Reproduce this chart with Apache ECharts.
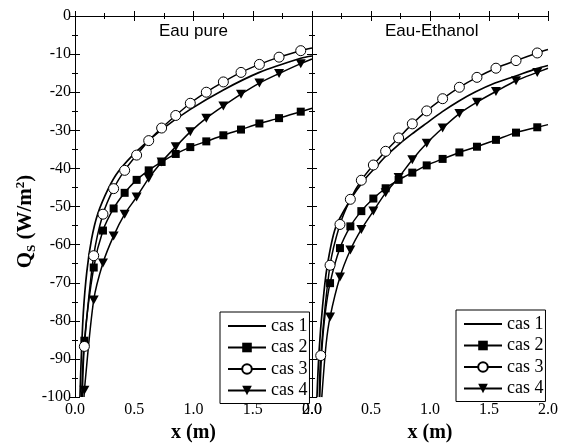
<!DOCTYPE html>
<html><head><meta charset="utf-8">
<script src="https://cdn.jsdelivr.net/npm/echarts@6/dist/echarts.min.js"></script>
<style>html,body{margin:0;padding:0;background:#fff}#c{width:565px;height:448px}</style>
</head><body><div id="c"></div>
<script>
const panelTitles = ['Eau pure', 'Eau-Ethanol'];
const caseNames = ['cas 1', 'cas 2', 'cas 3', 'cas 4'];
const xTickLabels = ['0.0', '0.5', '1.0', '1.5', '2.0'];

// ---- Eau pure (left panel) ----
const pureMarkX = [0.079, 0.158, 0.236, 0.326, 0.419, 0.520, 0.622, 0.731, 0.850, 0.973, 1.108, 1.252, 1.401, 1.556, 1.722, 1.905];
const pureCas2 = [-85.2, -66.0, -56.3, -50.5, -46.4, -43.0, -40.5, -38.3, -36.2, -34.4, -32.9, -31.3, -29.8, -28.2, -26.8, -25.1];
const pureCas3 = [-86.7, -62.9, -52.0, -45.3, -40.5, -36.5, -32.7, -29.4, -26.1, -22.9, -20.0, -17.3, -14.8, -12.7, -10.8, -9.1];
const pureCas4 = [-98.2, -74.5, -64.8, -57.7, -52.0, -47.5, -42.6, -38.3, -34.3, -30.4, -26.8, -23.6, -20.5, -17.6, -15.1, -12.5];
const pureCas1X = [0.042, 0.050, 0.070, 0.100, 0.140, 0.191, 0.281, 0.366, 0.520, 0.731, 0.973, 1.252, 1.556, 1.905, 2.000];
const pureCas1Y = [-100, -92, -78, -67, -58.5, -52, -45.3, -40.8, -35.5, -29.8, -24.5, -19.4, -14.8, -11.1, -10.5];
// unmarked line readings before / after markers
const pureCas2Start = [[0.056, -100]];
const pureCas2End = [[2.0, -24.2]];
const pureCas3Start = [[0.062, -100]];
const pureCas3End = [[2.0, -8.4]];
const pureCas4Start = [[0.076, -100]];
const pureCas4End = [[2.0, -11.3]];

// ---- Eau-Ethanol (right panel) ----
const ethMarkX = [0.074, 0.153, 0.237, 0.325, 0.418, 0.520, 0.624, 0.734, 0.850, 0.972, 1.107, 1.249, 1.398, 1.559, 1.729, 1.909];
const ethCas2 = [null, -70.1, -60.9, -55.2, -51.2, -47.9, -45.2, -43.0, -41.1, -39.2, -37.5, -35.8, -34.3, -32.5, -30.6, -29.2];
const ethCas3 = [-89.1, -65.4, -54.7, -48.1, -43.1, -39.1, -35.5, -32.0, -28.3, -24.9, -21.7, -18.7, -16.1, -13.7, -11.7, -9.7];
const ethCas4 = [null, -79.0, -68.5, -61.4, -56.0, -51.2, -46.4, -42.4, -37.7, -33.4, -29.4, -25.6, -22.6, -19.8, -17.0, -14.8];
const ethCas1X = [0.042, 0.060, 0.090, 0.127, 0.200, 0.330, 0.438, 0.551, 0.619, 0.732, 0.845, 0.972, 1.105, 1.246, 1.387, 1.551, 1.720, 1.904, 2.000];
const ethCas1Y = [-100, -88, -76, -66, -55.5, -48, -43.2, -39.3, -37.0, -33.8, -31.0, -28.1, -25.1, -22.3, -19.9, -17.6, -15.8, -13.8, -13.0];
const ethCas2Start = [[0.066, -100], [0.082, -88.5], [0.110, -78.5]];
const ethCas2End = [[2.0, -28.5]];
const ethCas3Start = [[0.062, -100]];
const ethCas3End = [[2.0, -8.8]];
const ethCas4Start = [[0.083, -100], [0.120, -86]];
const ethCas4End = [[2.0, -13.7]];

function buildData(markX, vals, startPts, endPts) {
  const d = [];
  startPts.forEach(p => d.push({ value: p, symbol: 'none' }));
  markX.forEach((x, i) => { if (vals[i] !== null) d.push([x, vals[i]]); });
  endPts.forEach(p => d.push({ value: p, symbol: 'none' }));
  return d;
}
function lineData(xs, ys) { return xs.map((x, i) => [x, ys[i]]); }

const triPath = 'path://M0,0L10,0L5,9Z';
const lineW = 1.5;
function mkSeries(gi, c1, c2, c3, c4) {
  const common = { type: 'line', xAxisIndex: gi * 2, yAxisIndex: gi * 2, smooth: 0.3, animation: false };
  return [
    Object.assign({}, common, { name: caseNames[0], data: c1, symbol: 'none',
      itemStyle: { color: 'rgba(0,0,0,0)' }, lineStyle: { color: '#000', width: 1.7 } }),
    Object.assign({}, common, { name: caseNames[1], data: c2, symbol: 'rect', symbolSize: 8,
      itemStyle: { color: '#000' }, lineStyle: { color: '#000', width: lineW } }),
    Object.assign({}, common, { name: caseNames[2], data: c3, symbol: 'circle', symbolSize: 10,
      itemStyle: { color: '#fff', borderColor: '#000', borderWidth: 1 }, lineStyle: { color: '#000', width: lineW } }),
    Object.assign({}, common, { name: caseNames[3], data: c4, symbol: triPath, symbolSize: [10, 9],
      itemStyle: { color: '#000' }, lineStyle: { color: '#000', width: lineW } })
  ];
}

const series = [].concat(
  mkSeries(0,
    lineData(pureCas1X, pureCas1Y),
    buildData(pureMarkX, pureCas2, pureCas2Start, pureCas2End),
    buildData(pureMarkX, pureCas3, pureCas3Start, pureCas3End),
    buildData(pureMarkX, pureCas4, pureCas4Start, pureCas4End)),
  mkSeries(1,
    lineData(ethCas1X, ethCas1Y),
    buildData(ethMarkX, ethCas2, ethCas2Start, ethCas2End),
    buildData(ethMarkX, ethCas3, ethCas3Start, ethCas3End),
    buildData(ethMarkX, ethCas4, ethCas4Start, ethCas4End))
);

const serif = 'Liberation Serif';
const axLine = { show: true, lineStyle: { color: '#000', width: 1 } };
const tick = { show: true, inside: true, length: 5, lineStyle: { color: '#000' } };
const minor = { show: true, splitNumber: 2, length: 3, lineStyle: { color: '#000' } };

function xAx(gi, pos, labels) {
  return {
    type: 'value', gridIndex: gi, position: pos, min: 0, max: 2, interval: 0.5,
    axisLine: axLine, axisTick: tick, minorTick: minor, splitLine: { show: false },
    axisLabel: labels ? { show: true, margin: 5, color: '#000', fontFamily: serif, fontSize: 16,
      formatter: v => xTickLabels[Math.round(v / 0.5)] } : { show: false },
    name: labels ? 'x (m)' : '', nameLocation: 'middle', nameGap: 18,
    nameTextStyle: { fontFamily: serif, fontWeight: 'bold', fontSize: 20, color: '#000' }
  };
}
function yAx(gi, pos, labels) {
  const o = {
    type: 'value', gridIndex: gi, position: pos, min: -100, max: 0, interval: 10,
    axisLine: axLine, axisTick: tick, minorTick: minor, splitLine: { show: false },
    axisLabel: labels ? { show: true, margin: 4, color: '#000', fontFamily: serif, fontSize: 16 } : { show: false }
  };
  if (labels) {
    o.name = '{q|Q}{s|S}{q| (W/m}{p|2}{q|)}';
    o.nameLocation = 'middle';
    o.nameGap = 33;
    o.nameTextStyle = {
      color: '#000', padding: [0, 30, 0, 0],
      rich: {
        q: { fontFamily: serif, fontWeight: 'bold', fontSize: 21, lineHeight: 24, color: '#000' },
        s: { fontFamily: serif, fontWeight: 'bold', fontSize: 13, lineHeight: 24, verticalAlign: 'bottom', color: '#000' },
        p: { fontFamily: serif, fontWeight: 'bold', fontSize: 13, lineHeight: 24, verticalAlign: 'top', color: '#000' }
      }
    };
  }
  return o;
}

function mkLegend(left, top) {
  return {
    orient: 'vertical', left: left, top: top, data: caseNames,
    itemWidth: 38, itemHeight: 12, itemGap: 3.5, padding: [5, 2, 4, 7],
    borderColor: '#000', borderWidth: 1, backgroundColor: '#fff',
    selectedMode: false,
    textStyle: { fontFamily: serif, fontSize: 18, color: '#000', padding: [0, 0, 0, 0] }
  };
}

const option = {
  animation: false,
  backgroundColor: '#fff',
  grid: [
    { left: 75, top: 16, width: 237, height: 391 },
    { left: 312, top: 16, width: 236, height: 391 }
  ],
  xAxis: [xAx(0, 'bottom', true), xAx(0, 'top', false), xAx(1, 'bottom', true), xAx(1, 'top', false)],
  yAxis: [yAx(0, 'left', true), yAx(0, 'right', false), yAx(1, 'left', false), yAx(1, 'right', false)],
  legend: [mkLegend(220, 312), mkLegend(456, 310)],
  graphic: [
    { type: 'text', left: 193 - 34, top: 23, style: { text: panelTitles[0], font: '17px "Liberation Sans"', fill: '#000' } },
    { type: 'text', left: 432 - 47, top: 23, style: { text: panelTitles[1], font: '17px "Liberation Sans"', fill: '#000' } }
  ],
  series: series
};
const chart = echarts.init(document.getElementById('c'), null, { renderer: 'canvas' });
chart.setOption(option);
</script></body></html>
